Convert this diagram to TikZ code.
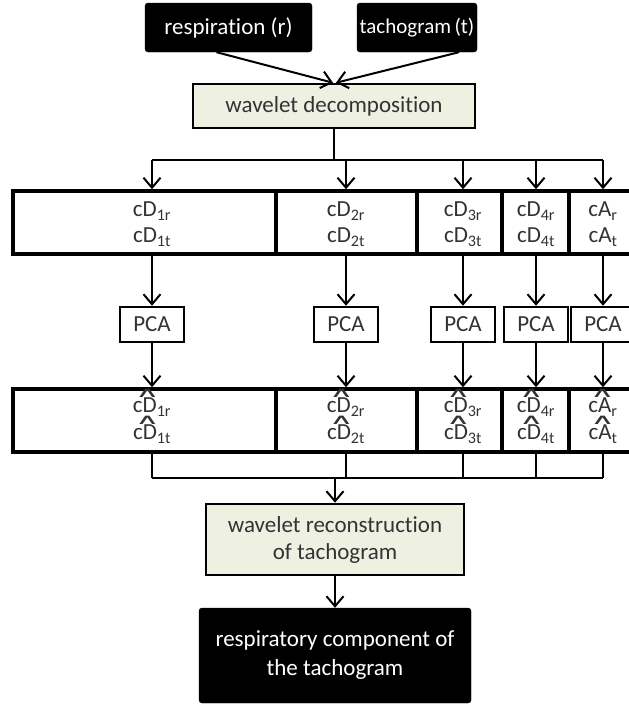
\documentclass[tikz,border=0pt]{standalone}
\usepackage{fontspec}
\usepackage{graphicx}
\setmainfont{Carlito}[Ligatures=NoCommon]
\newfontfamily\dvfont{DejaVu Sans}
\usetikzlibrary{arrows.meta}
\definecolor{lgreen}{HTML}{EEF1E2}
\definecolor{txt}{HTML}{333333}
\newcommand{\hatover}[1]{\leavevmode\setbox0\hbox{#1}\rlap{\smash{\hbox to \wd0{\hss\kern5pt\raisebox{15pt}{\scalebox{2.1}[0.9]{\dvfont\fontsize{16}{16}\selectfont ∧}}\hss}}}\box0}
\newcommand{\hcD}{\hatover{cD}}
\newcommand{\hcA}{\hatover{cA}}
\begin{document}
\begin{tikzpicture}[x=1pt,y=-1pt,
 font=\fontsize{23}{26}\selectfont,
 blk/.style={fill=black, draw=black, rounded corners=3pt, text=white, inner sep=0pt, align=center},
 grn/.style={fill=lgreen, draw=black, line width=2.5pt, inner sep=0pt, align=center, text=txt},
 cell/.style={draw=black, line width=3.5pt, inner sep=0pt, minimum height=63pt},
 lab/.style={text=txt, align=center, inner sep=0pt},
 pca/.style={draw=black, line width=2.5pt, inner sep=0pt, minimum width=64pt, minimum height=35pt, text=txt},
 arr/.style={line width=2pt, -{Straight Barb[length=10pt,width=17pt,line width=2pt]}},
 ln/.style={line width=2pt},
 thinln/.style={line width=1.5pt}]
\useasboundingbox (0,0) rectangle (629,704);
\clip (0,0) rectangle (629,704);

% top
\node[blk, minimum width=167pt, minimum height=49pt] (resp) at (228.5,27.5) {respiration (r)};
\node[blk, minimum width=120pt, minimum height=49pt, font=\fontsize{21}{24}\selectfont] (tach) at (417,27.5) {tachogram\,(t)};
\node[grn, minimum width=282pt, minimum height=44pt] (dec) at (334,106) {wavelet decomposition};
\draw[arr] ([xshift=-12pt]resp.south) -- ([xshift=-1pt]dec.north);
\draw[arr] ([xshift=42pt]tach.south) -- ([xshift=2pt]dec.north);

% row 1 cells
\node[cell, minimum width=263pt] (a1) at (144.5,222.5) {};
\node[cell, minimum width=141pt] (a2) at (346.5,222.5) {};
\node[cell, minimum width=85pt]  (a3) at (459.5,222.5) {};
\node[cell, minimum width=67pt]  (a4) at (535.5,222.5) {};
\node[cell, minimum width=91pt]  (a5) at (614.5,222.5) {};
\node[lab] (t1) at (152,224) {cD\textsubscript{1r}\\cD\textsubscript{1t}};
\node[lab] (t2) at (346,224) {cD\textsubscript{2r}\\cD\textsubscript{2t}};
\node[lab] (t3) at (463,224) {cD\textsubscript{3r}\\cD\textsubscript{3t}};
\node[lab] (t4) at (536,224) {cD\textsubscript{4r}\\cD\textsubscript{4t}};
\node[lab] (t5) at (603,224) {cA\textsubscript{r}\\cA\textsubscript{t}};

% top bus
\coordinate (busL) at (152,160);
\coordinate (busR) at (603,160);
\draw[ln] (dec.south) -- (dec.south |- busL);
\draw[ln] (busL) -- (busR);
\foreach \i in {1,...,5}{
  \draw[arr] (t\i |- busL) -- (t\i |- a\i.north);
}

% PCA
\node[pca] (p1) at (152,324.5) {PCA};
\node[pca] (p2) at (346,324.5) {PCA};
\node[pca] (p3) at (463,324.5) {PCA};
\node[pca] (p4) at (536,324.5) {PCA};
\node[pca] (p5) at (603,324.5) {PCA};

% row 2 cells
\node[cell, minimum width=263pt] (b1) at (144.5,420.5) {};
\node[cell, minimum width=141pt] (b2) at (346.5,420.5) {};
\node[cell, minimum width=85pt]  (b3) at (459.5,420.5) {};
\node[cell, minimum width=67pt]  (b4) at (535.5,420.5) {};
\node[cell, minimum width=91pt]  (b5) at (614.5,420.5) {};
\node[lab] (u1) at (152,421) {\hcD\textsubscript{1r}\\[1pt]\hcD\textsubscript{1t}};
\node[lab] (u2) at (346,421) {\hcD\textsubscript{2r}\\[1pt]\hcD\textsubscript{2t}};
\node[lab] (u3) at (463,421) {\hcD\textsubscript{3r}\\[1pt]\hcD\textsubscript{3t}};
\node[lab] (u4) at (536,421) {\hcD\textsubscript{4r}\\[1pt]\hcD\textsubscript{4t}};
\node[lab] (u5) at (603,421) {\hcA\textsubscript{r}\\[1pt]\hcA\textsubscript{t}};

\foreach \i in {1,...,5}{
  \draw[arr] (p\i |- a\i.south) -- (p\i.north);
  \draw[arr] (p\i.south) -- (p\i |- b\i.north);
}

% bottom bus
\coordinate (bbL) at (152,478);
\coordinate (bbR) at (603,478);
\foreach \i in {1,...,5}{
  \draw[thinln] (u\i |- b\i.south) -- (u\i |- bbL);
}
\draw[thinln] (bbL) -- (bbR);

% bottom
\node[grn, minimum width=258pt, minimum height=71pt] (rec) at (335,539.5) {wavelet reconstruction\\[1pt]of tachogram};
\node[blk, minimum width=272pt, minimum height=95pt] (out) at (335,655.5) {respiratory component of\\[3pt]the tachogram};
\draw[arr] (rec.north |- bbL) -- (rec.north);
\draw[arr] (rec.south) -- (out.north);
\end{tikzpicture}
\end{document}
